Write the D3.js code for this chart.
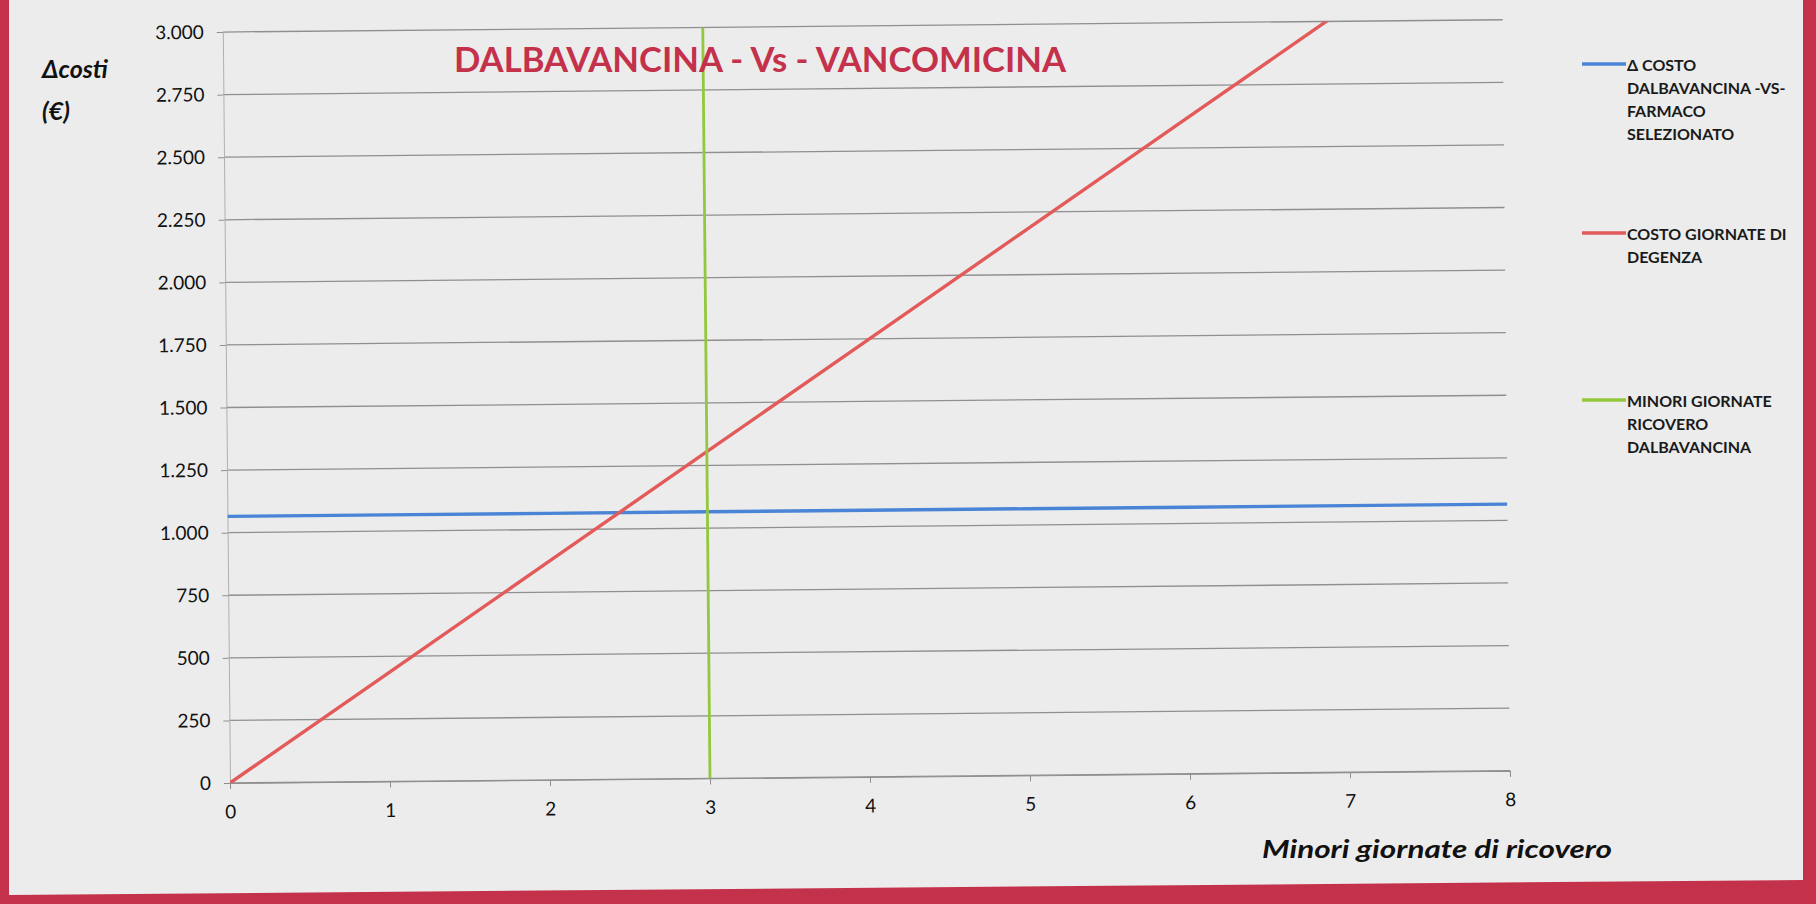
<!DOCTYPE html>
<html lang="it">
<head>
<meta charset="UTF-8">
<title>DALBAVANCINA - Vs - VANCOMICINA</title>
<script src="https://d3js.org/d3.v7.min.js"></script>
<style>
  html, body { margin: 0; padding: 0; background: #c4314b; }
  svg { display: block; }
  text { font-family: Lato, "Open Sans", sans-serif; }
</style>
</head>
<body>
<svg id="chart" width="1816" height="904"></svg>
<script>
// dati
const giorni = [0, 1, 2, 3, 4, 5, 6, 7, 8];
const deltaCosto = [1065, 1065, 1065, 1065, 1065, 1065, 1065, 1065, 1065];
const costoDegenza = [0, 435, 870, 1305, 1740, 2175, 2610, 3045, 3480];
const minoriGiorni = [3, 3];
const minoriValori = [0, 3000];
const yTicks = [0, 250, 500, 750, 1000, 1250, 1500, 1750, 2000, 2250, 2500, 2750, 3000];
const xTicks = [0, 1, 2, 3, 4, 5, 6, 7, 8];
const legendLabels = [
  ["\u0394 COSTO", "DALBAVANCINA  -VS-", "FARMACO", "SELEZIONATO"],
  ["COSTO GIORNATE DI", "DEGENZA"],
  ["MINORI GIORNATE", "RICOVERO", "DALBAVANCINA"]
];
const colors = ["#4a84d6", "#e35a5a", "#93c83e"];

const svg = d3.select("#chart");

// cornice rossa e foglio
svg.append("rect").attr("width", 1816).attr("height", 904).attr("fill", "#c4314b");
svg.append("polygon")
  .attr("points", "9,0 1803,0 1803,880 9,895")
  .attr("fill", "#ececec");

const x = d3.scaleLinear().domain([0, 8]).range([230, 1510]);
const y = d3.scaleLinear().domain([0, 3000]).range([783, 32]);

const it = d3.formatLocale({ decimal: ",", thousands: ".", grouping: [3], currency: ["€", ""] });
const fmt = it.format(",d");

// la foto è leggermente ruotata
const g = svg.append("g").attr("transform", "rotate(-0.55, 230, 783)");

g.append("defs").append("clipPath").attr("id", "plotClip")
  .append("rect")
  .attr("x", x(0)).attr("y", y(3000))
  .attr("width", x(8) - x(0)).attr("height", y(0) - y(3000));

// griglia
g.append("g")
  .selectAll("line")
  .data(yTicks)
  .join("line")
  .attr("x1", x(0)).attr("x2", x(8))
  .attr("y1", d => y(d)).attr("y2", d => y(d))
  .attr("stroke", "#8f8f8f")
  .attr("stroke-width", 1.3);

// asse y
const yAxis = d3.axisLeft(y).tickValues(yTicks).tickFormat(fmt).tickSize(6).tickPadding(13);
const gy = g.append("g").attr("transform", `translate(${x(0)},0)`).call(yAxis);
gy.select(".domain").attr("stroke", "#b0b0b0");
gy.selectAll(".tick line").attr("stroke", "#8f8f8f");
gy.selectAll(".tick text")
  .attr("font-size", 19)
  .attr("fill", "#111")
  .style("font-family", "Lato, sans-serif");

// asse x
const xAxis = d3.axisBottom(x).tickValues(xTicks).tickFormat(d3.format("d")).tickSize(6).tickPadding(16);
const gx = g.append("g").attr("transform", `translate(0,${y(0)})`).call(xAxis);
gx.select(".domain").attr("stroke", "#8f8f8f");
gx.selectAll(".tick line").attr("stroke", "#8f8f8f");
gx.selectAll(".tick text")
  .attr("font-size", 19)
  .attr("fill", "#111")
  .style("font-family", "Lato, sans-serif");

const line = d3.line().x(d => x(d[0])).y(d => y(d[1]));

const series = [
  d3.zip(giorni, deltaCosto),
  d3.zip(giorni, costoDegenza),
  d3.zip(minoriGiorni, minoriValori)
];
const widths = [3.4, 3.4, 2.8];

g.append("g")
  .attr("clip-path", "url(#plotClip)")
  .selectAll("path")
  .data(series)
  .join("path")
  .attr("d", line)
  .attr("fill", "none")
  .attr("stroke", (d, i) => colors[i])
  .attr("stroke-width", (d, i) => widths[i]);

// titolo
svg.append("text")
  .attr("x", 454).attr("y", 72)
  .attr("font-size", 35)
  .attr("font-weight", "bold")
  .attr("fill", "#c4314b")
  .attr("textLength", 612)
  .attr("lengthAdjust", "spacingAndGlyphs")
  .text("DALBAVANCINA - Vs - VANCOMICINA");

// titoli assi
svg.append("text")
  .attr("x", 42).attr("y", 78)
  .attr("font-size", 25).attr("font-weight", "bold").attr("font-style", "italic")
  .attr("fill", "#111")
  .text("\u0394costi");
svg.append("text")
  .attr("x", 42).attr("y", 120)
  .attr("font-size", 25).attr("font-weight", "bold").attr("font-style", "italic")
  .attr("fill", "#111")
  .text("(\u20ac)");
svg.append("text")
  .attr("x", 1262).attr("y", 858)
  .attr("font-size", 25).attr("font-weight", "bold").attr("font-style", "italic")
  .attr("fill", "#111")
  .attr("textLength", 350)
  .attr("lengthAdjust", "spacingAndGlyphs")
  .text("Minori giornate di ricovero");

// legenda
const legendY = [64, 233, 400];
const legend = svg.append("g");
legendLabels.forEach((lines, i) => {
  legend.append("line")
    .attr("x1", 1582).attr("x2", 1626)
    .attr("y1", legendY[i]).attr("y2", legendY[i])
    .attr("stroke", colors[i]).attr("stroke-width", 3.4);
  legend.append("text")
    .attr("x", 1627).attr("y", legendY[i] + 7)
    .attr("font-size", 16).attr("font-weight", "bold")
    .attr("fill", "#1a1a1a")
    .selectAll("tspan")
    .data(lines)
    .join("tspan")
    .attr("x", 1627)
    .attr("dy", (d, j) => j === 0 ? 0 : 23)
    .text(d => d);
});
</script>
</body>
</html>
